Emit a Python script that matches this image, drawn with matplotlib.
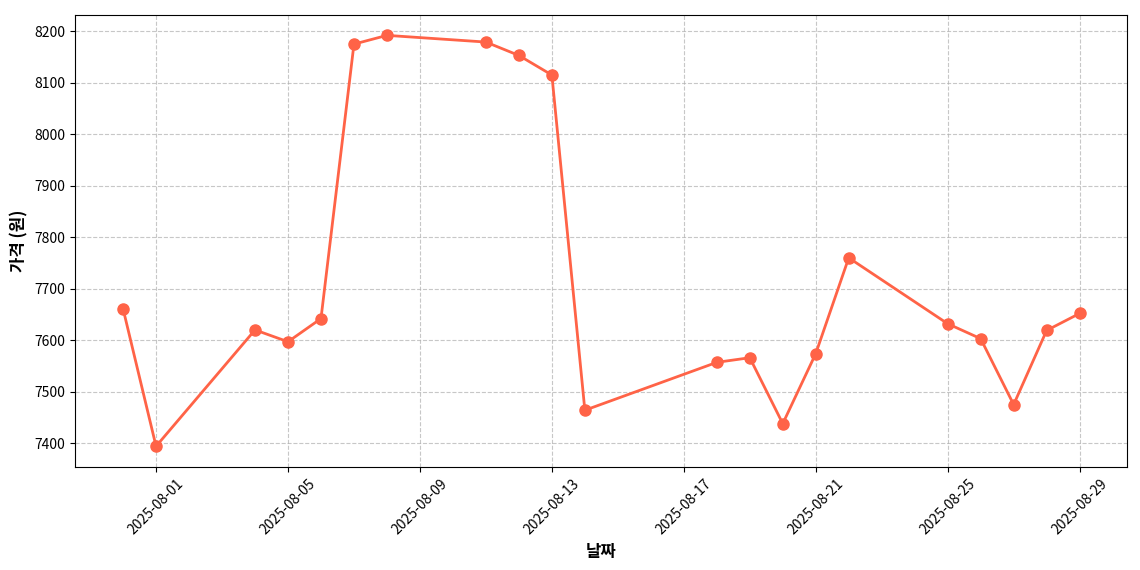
import pandas as pd
import matplotlib
matplotlib.use("Agg")
import matplotlib.pyplot as plt
import matplotlib.dates as mdates

plt.rcParams['font.family'] = ['Noto Sans CJK KR', 'DejaVu Sans']

dates = ['2025-07-31', '2025-08-01', '2025-08-04', '2025-08-05', '2025-08-06',
         '2025-08-07', '2025-08-08', '2025-08-11', '2025-08-12', '2025-08-13',
         '2025-08-14', '2025-08-18', '2025-08-19', '2025-08-20', '2025-08-21',
         '2025-08-22', '2025-08-25', '2025-08-26', '2025-08-27', '2025-08-28',
         '2025-08-29']
prices = [7661, 7394, 7620, 7597, 7642,
          8175, 8192, 8179, 8153, 8115,
          7464, 7557, 7566, 7438, 7574,
          7760, 7632, 7603, 7475, 7619,
          7652]

x = pd.to_datetime(dates)

fig, ax = plt.subplots(figsize=(11.4, 5.7), dpi=100)
ax.plot(x, prices, color='#FF6347', marker='o', markersize=8, linewidth=2)
ax.set_xlabel('날짜', fontsize=12, fontweight='bold')
ax.set_ylabel('가격 (원)', fontsize=12, fontweight='bold')
ax.grid(True, linestyle='--', alpha=0.7)
ax.xaxis.set_major_locator(mdates.DayLocator(bymonthday=[1, 5, 9, 13, 17, 21, 25, 29]))
ax.xaxis.set_major_formatter(mdates.DateFormatter('%Y-%m-%d'))
plt.setp(ax.get_xticklabels(), rotation=45)
plt.subplots_adjust(left=0.066, right=0.989, top=0.974, bottom=0.181)
plt.savefig('out.png')
